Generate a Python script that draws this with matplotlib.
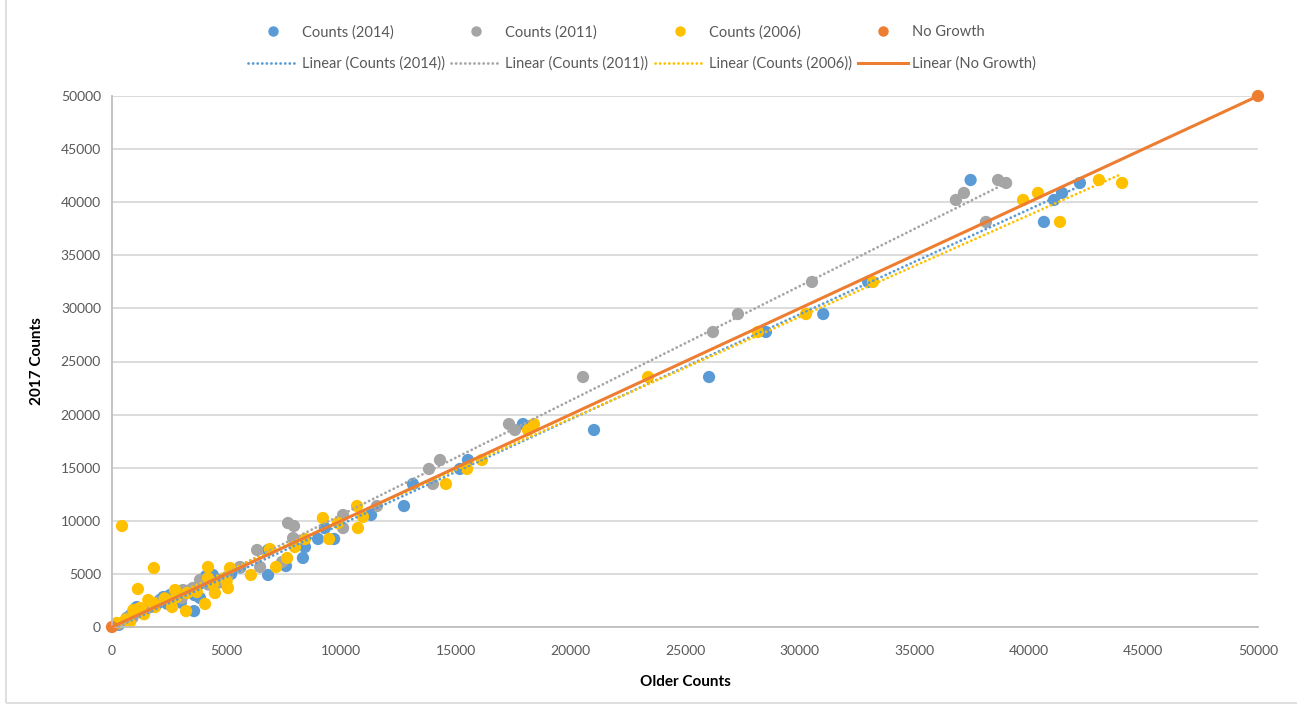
import numpy as np
from matplotlib import pyplot as plt
from matplotlib.lines import Line2D
from matplotlib.patches import Rectangle

plt.rcParams['font.family'] = ['Lato', 'DejaVu Sans']

# older counts (x) and 2017 counts (y)
x_2014 = [37460, 42230, 41450, 41100, 40660, 32990, 31030, 28530, 26050, 21030,
          17930, 15530, 15180, 13130, 12740, 11300, 9690, 8990, 9290, 8420,
          8330, 7590, 6810, 6810, 650, 1080, 1000, 2090, 2240, 1700, 2530, 3580,
          3840, 4620, 4100, 5200, 5600, 3000, 2800, 1400, 1900, 3300, 4400, 300,
          800, 2400, 3600]
y_2014 = [42090, 41810, 40870, 40210, 38140, 32490, 29470, 27780, 23540, 18550,
          19110, 15725, 14880, 13470, 11390, 10545, 8290, 8290, 9320, 7530,
          6500, 5740, 4900, 7250, 850, 1880, 1700, 2540, 2820, 1900, 3010, 1500,
          2730, 4430, 4800, 5000, 5600, 2300, 2500, 1600, 2000, 3400, 4900, 200,
          1100, 2200, 3000]

x_2011 = [36820, 37170, 38660, 39010, 38130, 30540, 27310, 26220, 20550, 17320,
          17580, 14310, 13830, 14000, 11560, 10080, 10080, 7900, 7680, 7940,
          7420, 6330, 6460, 5580, 5020, 3840, 3530, 3100, 3050, 650, 900, 2000,
          2600, 4200, 4700, 1500, 300]
y_2011 = [40210, 40870, 42090, 41810, 38140, 32490, 29470, 27780, 23540, 19110,
          18550, 15725, 14880, 13470, 11390, 10545, 9320, 8380, 9790, 9510,
          6120, 7250, 5650, 5650, 4710, 4430, 3670, 3480, 2730, 850, 900, 2300,
          2400, 4000, 4200, 1700, 300]

x_2006 = [39750, 40400, 41360, 43060, 44070, 33200, 30280, 28180, 23390, 18150,
          18410, 15490, 16140, 14570, 10690, 10950, 10730, 9200, 9860, 9470,
          8420, 7980, 7640, 7160, 436, 1830, 1130, 210, 790, 930, 1220, 1580,
          1790, 1880, 2750, 2820, 3270, 3230, 2620, 4190, 4190, 4060, 4490, 4410,
          5060, 5150, 6890, 6060, 2300, 3700, 1400, 600, 5000]
y_2006 = [40210, 40870, 38140, 42090, 41810, 32490, 29470, 27780, 23540, 18550,
          19110, 14880, 15725, 13470, 11390, 10360, 9320, 10260, 9790, 8290,
          8290, 7530, 6500, 5650, 9510, 5555, 3580, 380, 470, 1600, 1790, 2540,
          2260, 1880, 3480, 2820, 3200, 1500, 1880, 4610, 5650, 2170, 3200, 4050,
          3670, 5555, 7340, 4900, 2700, 3300, 1200, 700, 4300]

x_none = [0, 50000]
y_none = [0, 50000]

dots = (0, (0.05, 1.6))
series = [
    ("Counts (2014)", x_2014, y_2014, '#5B9BD5', dots),
    ("Counts (2011)", x_2011, y_2011, '#A5A5A5', dots),
    ("Counts (2006)", x_2006, y_2006, '#FFC000', dots),
    ("No Growth", x_none, y_none, '#ED7D31', '-'),
]

fig = plt.figure(figsize=(12.97, 7.06), dpi=100)
ax = fig.add_axes([112/1297, 1 - 627/706, (1258 - 112)/1297, (627 - 96)/706])

handles = []
for name, xs, ys, col, ls in series:
    xs = np.array(xs, dtype=float)
    ys = np.array(ys, dtype=float)
    ax.scatter(xs, ys, s=78, color=col, edgecolors='none', zorder=2, clip_on=False)
    # linear trendline over the data range
    m, b = np.polyfit(xs, ys, 1)
    xt = np.array([xs.min(), xs.max()])
    lw = 2.2 if ls == '-' else 2.0
    ax.plot(xt, m * xt + b, color=col, linestyle=ls, linewidth=lw, zorder=3,
            dash_capstyle='round', clip_on=False)
    handles.append((Line2D([], [], marker='o', linestyle='none', color=col, markersize=6.5),
                    name,
                    Line2D([], [], color=col, linestyle=ls, linewidth=lw, dash_capstyle='round'),
                    "Linear (" + name + ")"))

# legend: column-wise order gives two rows (points, trendlines)
h, l = [], []
for pt, name, ln, lname in handles:
    h += [pt, ln]
    l += [name, lname]
fig.legend(h, l, ncol=4, loc='center', bbox_to_anchor=(0.495, 0.932), frameon=False,
           fontsize=10.5, labelcolor='#595959', handlelength=3.4, handletextpad=0.3,
           columnspacing=0.45, labelspacing=1.2)

ax.set_xlim(0, 50000)
ax.set_ylim(0, 50000)
ax.set_xticks(np.arange(0, 50001, 5000))
ax.set_yticks(np.arange(0, 50001, 5000))
ax.tick_params(length=0, labelsize=10, labelcolor='#595959')
ax.tick_params(axis='x', pad=13)
ax.tick_params(axis='y', pad=8)
ax.grid(True, axis='y', color='#d9d9d9', linewidth=1.3)
ax.set_axisbelow(True)
for s in ['top', 'right']:
    ax.spines[s].set_visible(False)
for s in ['left', 'bottom']:
    ax.spines[s].set_color('#bfbfbf')
    ax.spines[s].set_linewidth(1.3)

ax.set_xlabel("Older Counts", fontsize=11, fontweight='bold', labelpad=13)
ax.set_ylabel("2017 Counts", fontsize=11, fontweight='bold', labelpad=12)

# chart border
fig.patches.append(Rectangle((6/1297, 3/706), 1.1, 1.1, transform=fig.transFigure,
                             fill=False, edgecolor='#d9d9d9', linewidth=1.2))

plt.savefig('out.png', dpi=100)
